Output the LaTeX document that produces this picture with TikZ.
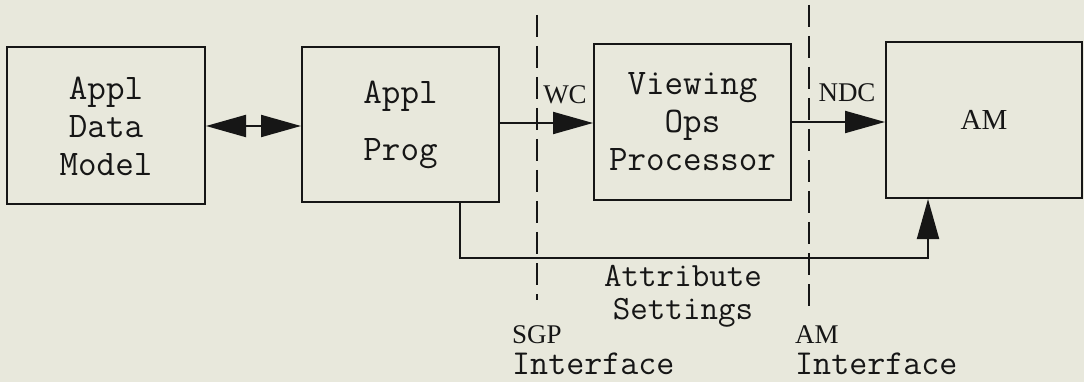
\documentclass[tikz,border=0pt]{standalone}
\usepackage{fontspec}
\setmainfont{Liberation Serif}
\usetikzlibrary{arrows.meta}
\definecolor{paper}{RGB}{232,232,220}
\definecolor{ink}{RGB}{22,22,22}
\tikzset{
  blockbox/.style={draw=ink, line width=2pt, inner sep=0pt, align=center,
    font=\fontsize{36}{38}\selectfont\ttfamily, text=ink},
  flow/.style={draw=ink, line width=2pt, -{Triangle[length=40pt,width=22pt]}},
  biflow/.style={draw=ink, line width=2pt,
    {Triangle[length=40pt,width=22pt]}-{Triangle[length=40pt,width=22pt]}},
  boundary/.style={draw=ink, line width=2pt, dash pattern=on 22pt off 9pt},
  serifnote/.style={inner sep=0pt, text=ink, font=\fontsize{27}{30}\selectfont\rmfamily},
  mononote/.style={inner sep=0pt, text=ink, font=\fontsize{35}{31}\selectfont\ttfamily},
}
\begin{document}
\begin{tikzpicture}[x=1pt,y=-1pt]
  % page
  \fill[paper] (0,0) rectangle (1084,382);
  \useasboundingbox (0,0) rectangle (1084,382);

  % processing blocks
  \node[blockbox, minimum width=198pt, minimum height=157pt] (data) at (106,126)
    {Appl\\Data\\Model};
  \node[blockbox, minimum width=197pt, minimum height=155pt,
    font=\fontsize{36}{57}\selectfont\ttfamily] (prog) at (400.5,124.5)
    {\raisebox{-3pt}{Appl}\\\raisebox{-3pt}{Prog}};
  \node[blockbox, minimum width=197pt, minimum height=156pt] (view) at (692.5,122)
    {Viewing\\Ops\\Processor};
  \node[blockbox, minimum width=196pt, minimum height=156pt,
    font=\fontsize{29}{30}\selectfont\rmfamily] (am) at (984,120) {AM};

  % interface boundaries
  \coordinate (sgpTop) at (537,15);
  \coordinate (sgpBot) at (537,300);
  \coordinate (amTop) at (809,5);
  \coordinate (amBot) at (809,307);
  \draw[boundary] (sgpTop) -- (sgpBot);
  \draw[boundary] (amTop) -- (amBot);

  % data flow
  \draw[biflow] (data.east) -- (data.east -| prog.west);
  \draw[flow] (prog.east |- 0,123) -- (view.west |- 0,123);
  \draw[flow] (view.east) -- (view.east -| am.west);
  \coordinate (attrCorner) at (928,258);
  \draw[flow] (prog.south -| 460,0) |- (attrCorner) -- (am.south -| attrCorner);

  % labels
  \node[serifnote] (wc) at (565,95) {WC};
  \node[serifnote] (ndc) at (847,93) {NDC};
  \node[mononote, align=center, font=\fontsize{34}{33}\selectfont\ttfamily]
    (attr) at (683,296) {Attribute\\Settings};
  \node[mononote, align=left, anchor=west] (sgp) at (512,350)
    {{\fontsize{27}{31}\selectfont\rmfamily SGP}\\Interface};
  \node[mononote, align=left, anchor=west] (ami) at (795,350)
    {{\fontsize{27}{31}\selectfont\rmfamily AM}\\Interface};
\end{tikzpicture}
\end{document}
